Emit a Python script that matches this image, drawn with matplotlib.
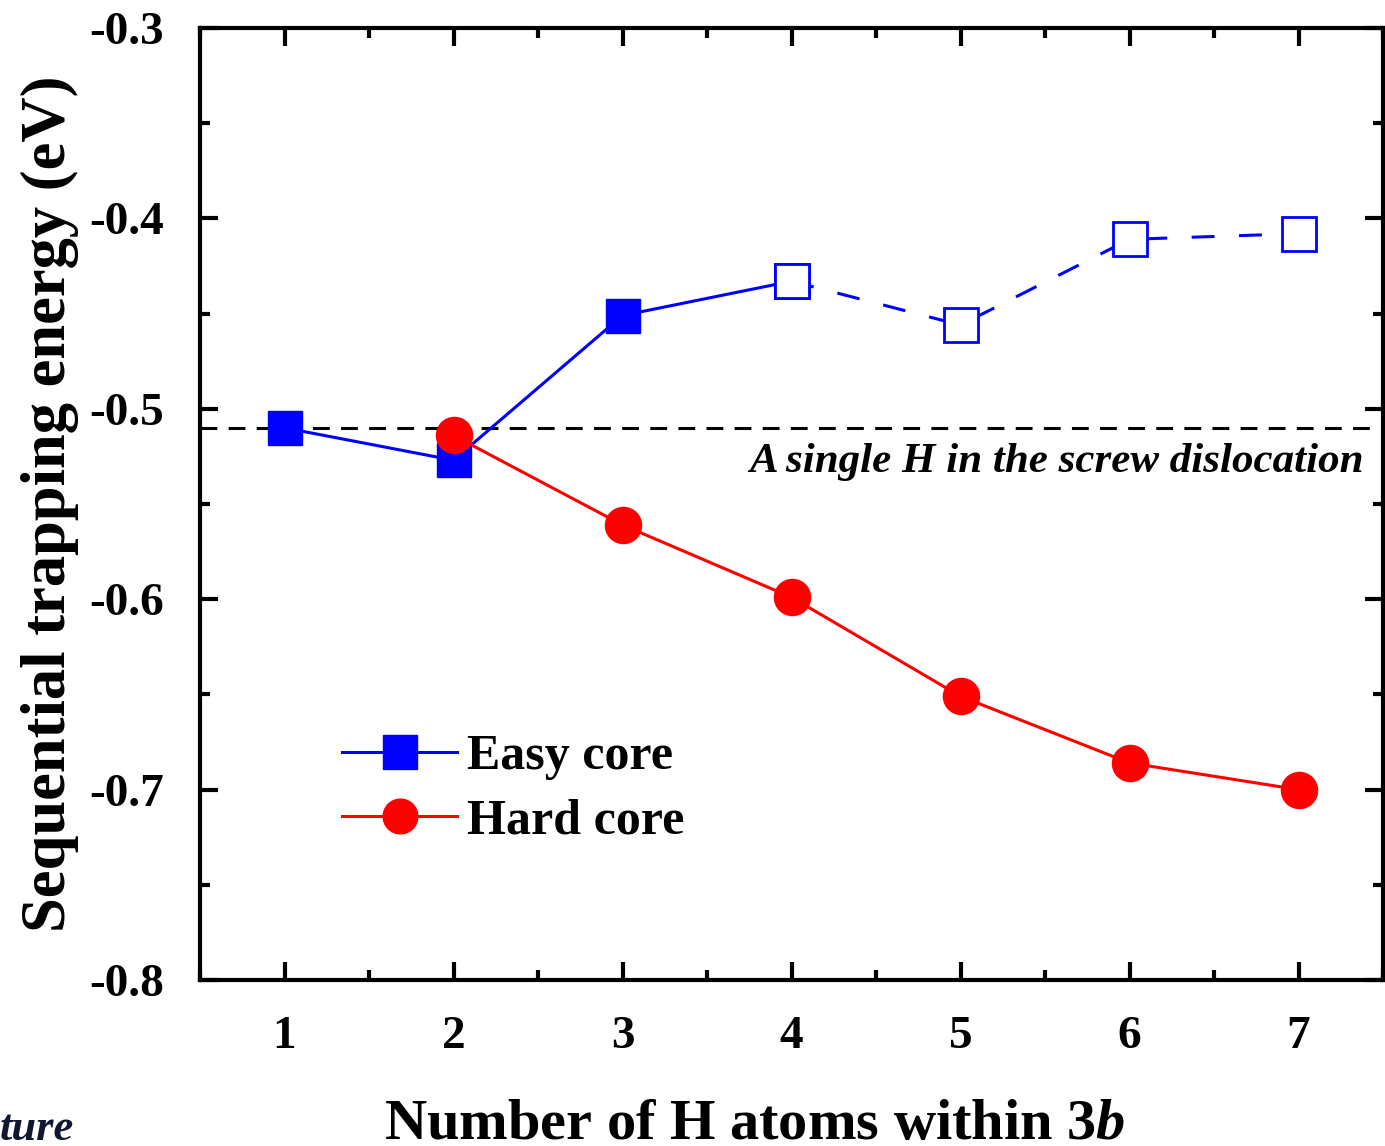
import matplotlib
matplotlib.use("Agg")
import matplotlib.pyplot as plt
from matplotlib.ticker import MultipleLocator
from matplotlib.lines import Line2D

plt.rcParams['font.family'] = ['Liberation Serif', 'DejaVu Serif']
plt.rcParams['font.weight'] = 'bold'
plt.rcParams['mathtext.fontset'] = 'custom'
plt.rcParams['mathtext.it'] = 'Liberation Serif:italic:bold'
plt.rcParams['mathtext.rm'] = 'Liberation Serif:bold'

easy_x_solid = [1, 2, 3, 4]
easy_y_solid = [-0.510, -0.527, -0.451, -0.433]
easy_x_open = [4, 5, 6, 7]
easy_y_open = [-0.433, -0.456, -0.411, -0.408]
hard_x = [2, 3, 4, 5, 6, 7]
hard_y = [-0.514, -0.561, -0.599, -0.651, -0.686, -0.700]
ref_level = -0.510
xticks = [1, 2, 3, 4, 5, 6, 7]
yticks = [-0.8, -0.7, -0.6, -0.5, -0.4, -0.3]
series_names = ['Easy core', 'Hard core']

fig = plt.figure(figsize=(13.85, 11.46), dpi=100)
ax = fig.add_axes([200/1385, 1-980/1146, (1383-200)/1385, (980-28)/1146])

blue = '#0000ff'
red = '#ff0000'
LW = 2.2
MS_SQ = 25
MS_CI = 26

ax.axhline(ref_level, color='black', lw=LW, ls=(0, (5.5, 3.7)), zorder=1)
ax.plot(easy_x_open, easy_y_open, color=blue, lw=LW, ls=(0, (7.5, 8)),
        marker='s', ms=MS_SQ, mfc='white', mec=blue, mew=2, zorder=3)
ax.plot(easy_x_solid[2:], easy_y_solid[2:], color=blue, lw=LW, zorder=2)
ax.plot(hard_x, hard_y, color=red, lw=LW, marker='o', ms=MS_CI, mfc=red, mec=red, zorder=4)
ax.plot(easy_x_solid[:3], easy_y_solid[:3], color=blue, lw=LW, marker='s', ms=MS_SQ,
        mfc=blue, mec=blue, zorder=3)
ax.plot([easy_x_open[0]], [easy_y_open[0]], ls='none', marker='s', ms=MS_SQ,
        mfc='white', mec=blue, mew=2, zorder=5)

ax.text(1364/1385, 1-472/1146, 'A single H in the screw dislocation', ha='right',
        va='baseline', transform=fig.transFigure,
        fontsize=31, fontstyle='italic', fontweight='bold')

ax.set_xlim(0.5, 7.5)
ax.set_ylim(-0.8, -0.3)
ax.set_xticks(xticks)
ax.set_yticks(yticks)
ax.set_yticklabels([f'{v:.1f}' for v in yticks])
ax.xaxis.set_minor_locator(MultipleLocator(0.5))
ax.yaxis.set_minor_locator(MultipleLocator(0.05))
ax.tick_params(which='both', direction='in', top=True, right=True, width=3)
ax.tick_params(which='major', length=13, labelsize=34)
ax.tick_params(axis='y', which='major', pad=26)
ax.tick_params(axis='x', which='major', pad=26)
ax.tick_params(which='minor', length=7)
for lab in ax.get_xticklabels() + ax.get_yticklabels():
    lab.set_fontweight('bold')
for s in ax.spines.values():
    s.set_linewidth(3)

ax.set_xlabel(r'Number of H atoms within 3$\mathit{b}$', fontsize=42, fontweight='bold')
ax.xaxis.set_label_coords((755 - 200) / (1383 - 200), -(1139 - 980) / (980 - 28),
                          transform=ax.transAxes)
ax.xaxis.label.set_va('baseline')
ax.set_ylabel('Sequential trapping energy (eV)', fontsize=45, fontweight='bold')
ax.yaxis.set_label_coords(-(200 - 50) / (1383 - 200), 0.5)
ax.yaxis.label.set_va('center')

handles = [Line2D([], [], color=blue, lw=LW, marker='s', ms=24, mfc=blue, mec=blue),
           Line2D([], [], color=red, lw=LW, marker='o', ms=25, mfc=red, mec=red)]
leg = ax.legend(handles, series_names, loc='upper left',
                bbox_to_anchor=(342/1385, 1-734/1146), bbox_transform=fig.transFigure,
                frameon=False, fontsize=36, borderpad=0, borderaxespad=0,
                handlelength=2.3, handletextpad=0.2, labelspacing=0.36)
for t in leg.get_texts():
    t.set_fontweight('bold')

fig.text(0.0, 1-1140/1146, 'ture', fontsize=32, fontstyle='italic', fontweight='bold',
         color='#101830', va='baseline', ha='left')

fig.savefig('out.png', dpi=100)
